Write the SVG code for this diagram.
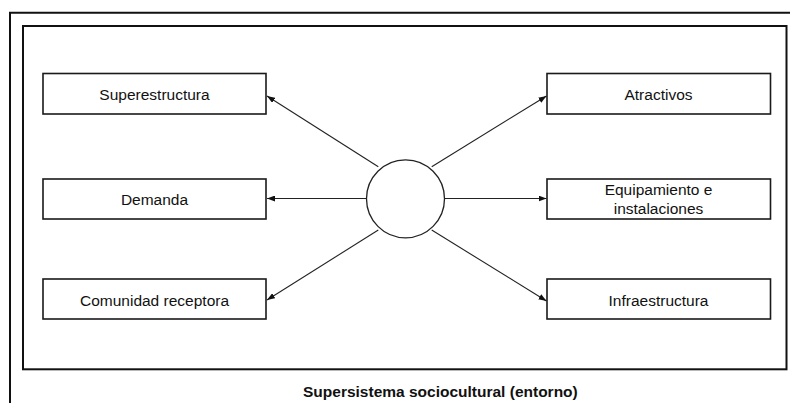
<svg xmlns="http://www.w3.org/2000/svg" width="790" height="403" viewBox="0 0 790 403">
<style>
.frame{fill:none;stroke:#111;stroke-width:2}
.box{fill:#fff;stroke:#1a1a1a;stroke-width:1.6}
.lbl{font-family:"Liberation Sans",Arial,sans-serif;font-size:15.5px;fill:#111;text-anchor:middle}
.cap{font-family:"Liberation Sans",Arial,sans-serif;font-size:15.5px;font-weight:bold;fill:#111}
.conn{fill:none;stroke:#222;stroke-width:1.1}
.hub{fill:#fff;stroke:#222;stroke-width:1.3}
</style>
<defs>
<marker id="ah" viewBox="0 0 8 6" refX="8" refY="3" markerWidth="8" markerHeight="6" markerUnits="userSpaceOnUse" orient="auto">
<path d="M0,0 L8,3 L0,6 z" fill="#111"/>
</marker>
</defs>
<rect width="790" height="403" fill="#fff"/>
<path class="frame" d="M10,403 L10,12.7 L790,12.7"/>
<rect class="frame" x="23" y="26" width="763.5" height="343.3" stroke-width="1.8"/>
<g id="connectors">
<line class="conn" x1="378.3" y1="166.7" x2="267" y2="96" marker-end="url(#ah)"/>
<line class="conn" x1="366.5" y1="198.5" x2="267" y2="198.5" marker-end="url(#ah)"/>
<line class="conn" x1="378.3" y1="230" x2="267" y2="300" marker-end="url(#ah)"/>
<line class="conn" x1="431.7" y1="166.7" x2="546.5" y2="96" marker-end="url(#ah)"/>
<line class="conn" x1="444.5" y1="198.5" x2="546.5" y2="198.5" marker-end="url(#ah)"/>
<line class="conn" x1="431.7" y1="230" x2="546.5" y2="301" marker-end="url(#ah)"/>
</g>
<g id="hub">
<circle class="hub" cx="405.5" cy="198.8" r="39"/>
</g>
<g id="superestructura">
<rect class="box" x="43" y="73.5" width="223" height="40.5"/>
<text class="lbl" x="154.5" y="100">Superestructura</text>
</g>
<g id="demanda">
<rect class="box" x="43" y="179" width="223" height="40"/>
<text class="lbl" x="154.5" y="205">Demanda</text>
</g>
<g id="comunidad">
<rect class="box" x="43" y="279" width="223" height="40"/>
<text class="lbl" x="154.5" y="305.5">Comunidad receptora</text>
</g>
<g id="atractivos">
<rect class="box" x="547" y="73.5" width="223.5" height="40.5"/>
<text class="lbl" x="658.5" y="100">Atractivos</text>
</g>
<g id="equipamiento">
<rect class="box" x="547" y="179" width="223.5" height="40"/>
<text class="lbl" x="658.5" y="195">Equipamiento e</text>
<text class="lbl" x="658.5" y="214">instalaciones</text>
</g>
<g id="infraestructura">
<rect class="box" x="547" y="279" width="223.5" height="40"/>
<text class="lbl" x="658.5" y="305.5">Infraestructura</text>
</g>
<text class="cap" x="303" y="397">Supersistema sociocultural (entorno)</text>
</svg>
